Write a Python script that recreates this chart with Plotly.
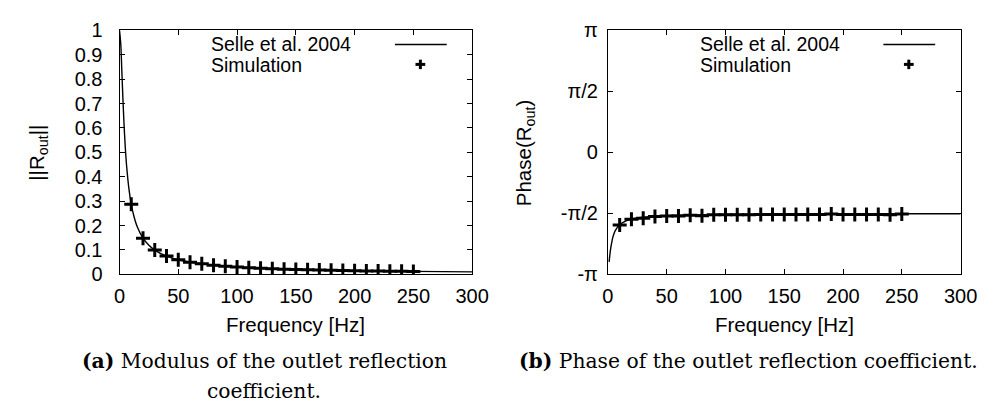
import math
import plotly.graph_objects as go

# ---------------- data ----------------
line_freq = [0, 1, 2, 3, 4, 5, 6, 8, 10, 12, 15, 20, 25, 30, 40, 50, 60, 80, 100,
             125, 150, 200, 250, 300]
line_modulus = [1.0, 0.949, 0.832, 0.707, 0.60, 0.514, 0.447, 0.351, 0.287, 0.243,
                0.196, 0.148, 0.119, 0.0995, 0.0748, 0.0599, 0.050, 0.0375, 0.030,
                0.024, 0.020, 0.015, 0.012, 0.010]

phase_line_freq = [1, 2, 3, 4, 5, 6, 8, 10, 12, 15, 20, 25, 30, 40, 50, 60, 80, 100,
                   150, 200, 250, 300]
line_phase = [-2.82, -2.55, -2.36, -2.21, -2.11, -2.03, -1.93, -1.86, -1.82, -1.77,
              -1.72, -1.69, -1.67, -1.65, -1.63, -1.62, -1.61, -1.60, -1.59, -1.586,
              -1.583, -1.581]

sim_freq = [10, 20, 30, 40, 50, 60, 70, 80, 90, 100, 110, 120, 130, 140, 150, 160,
            170, 180, 190, 200, 210, 220, 230, 240, 250]
sim_modulus = [0.287, 0.148, 0.100, 0.075, 0.060, 0.050, 0.043, 0.037, 0.033, 0.030,
               0.027, 0.025, 0.023, 0.021, 0.020, 0.019, 0.018, 0.017, 0.016, 0.015,
               0.014, 0.0137, 0.013, 0.0125, 0.012]
sim_phase = [-1.87, -1.72, -1.70, -1.65, -1.64, -1.64, -1.62, -1.63, -1.61, -1.61,
             -1.61, -1.61, -1.60, -1.60, -1.60, -1.60, -1.60, -1.60, -1.59, -1.60,
             -1.60, -1.60, -1.60, -1.61, -1.59]

x_ticks = [0, 50, 100, 150, 200, 250, 300]
mod_ticks = [0, 0.1, 0.2, 0.3, 0.4, 0.5, 0.6, 0.7, 0.8, 0.9, 1]
mod_tick_labels = ["0", "0.1", "0.2", "0.3", "0.4", "0.5", "0.6", "0.7", "0.8", "0.9", "1"]
phase_ticks = [-math.pi, -math.pi / 2, 0, math.pi / 2, math.pi]
phase_tick_labels = ["-π", "-π/2", "0", "π/2", "π"]

legend_labels = ["Selle et al. 2004", "Simulation"]
x_title = "Frequency [Hz]"
y_titles = ["||R<sub>out</sub>||", "Phase(R<sub>out</sub>)"]
caption_lines = [
    ["<b>(a)</b> Modulus of the outlet reflection", "coefficient."],
    ["<b>(b)</b> Phase of the outlet reflection coefficient."],
]

# ---------------- layout helpers ----------------
W, H = 994, 405
def px(x):
    return x / W
def py(y):
    return 1 - y / H

SANS = "Liberation Sans"
SERIF = "DejaVu Serif"
FS = 20.5
LFS = 19.5
TFS = 20
CFS = 20.3

panels = [
    dict(x0=108, x1=469, ytitle_x=25, caption_x=256),
    dict(x0=608, x1=969, ytitle_x=523, caption_x=752),
]
y_top, y_bot = 12, 270

fig = go.Figure()

line_style = dict(color="black", width=1.4)
marker_style = dict(symbol="cross-thin", size=10, color="black",
                    line=dict(color="black", width=3))

fig.add_trace(go.Scatter(x=line_freq, y=line_modulus, mode="lines", line=line_style,
                         xaxis="x", yaxis="y", showlegend=False, line_shape="spline"))
fig.add_trace(go.Scatter(x=sim_freq, y=sim_modulus, mode="markers", marker=marker_style,
                         xaxis="x", yaxis="y", showlegend=False))
fig.add_trace(go.Scatter(x=phase_line_freq, y=line_phase, mode="lines", line=line_style,
                         xaxis="x2", yaxis="y2", showlegend=False, line_shape="spline"))
fig.add_trace(go.Scatter(x=sim_freq, y=sim_phase, mode="markers", marker=marker_style,
                         xaxis="x2", yaxis="y2", showlegend=False))

axis_common = dict(showline=True, linecolor="black", linewidth=1, mirror="ticks",
                   ticks="inside", ticklen=5, tickcolor="black", tickwidth=1,
                   showgrid=False, zeroline=False,
                   tickfont=dict(family=SANS, size=TFS, color="black"))

fig.update_layout(
    width=W, height=H,
    margin=dict(l=0, r=0, t=0, b=0),
    paper_bgcolor="white", plot_bgcolor="white",
    showlegend=False,
    xaxis=dict(domain=[px(108), px(469)], range=[0, 300], tickvals=x_ticks,
               anchor="y", ticklabelstandoff=4, **axis_common),
    yaxis=dict(domain=[py(y_bot), py(y_top)], range=[0, 1], tickvals=mod_ticks,
               ticktext=mod_tick_labels, anchor="x", ticklabelstandoff=12, **axis_common),
    xaxis2=dict(domain=[px(608), px(969)], range=[0, 300], tickvals=x_ticks,
                anchor="y2", ticklabelstandoff=4, **axis_common),
    yaxis2=dict(domain=[py(y_bot), py(y_top)], range=[-math.pi, math.pi],
                tickvals=phase_ticks, ticktext=phase_tick_labels, anchor="x2",
                ticklabelstandoff=5, **axis_common),
)

annotations = []
shapes = []
for i, p in enumerate(panels):
    cx = (p["x0"] + p["x1"]) / 2
    # x title
    annotations.append(dict(x=px(cx), y=py(323), xref="paper", yref="paper",
                            text=x_title, showarrow=False, xanchor="center",
                            yanchor="middle", font=dict(family=SANS, size=FS, color="black")))
    # y title
    annotations.append(dict(x=px(p["ytitle_x"]), y=py(141), xref="paper", yref="paper",
                            text=y_titles[i], showarrow=False, textangle=-90,
                            xanchor="center", yanchor="middle",
                            font=dict(family=SANS, size=FS, color="black")))
    # legend texts
    for j, lab in enumerate(legend_labels):
        annotations.append(dict(x=px(p["x0"] + 93), y=py(26 + 22.5 * j), xref="paper",
                                yref="paper", text=lab, showarrow=False,
                                xanchor="left", yanchor="middle", borderpad=0,
                                font=dict(family=SANS, size=LFS, color="black")))
    # legend line sample
    shapes.append(dict(type="line", xref="paper", yref="paper",
                       x0=px(p["x0"] + 282), x1=px(p["x0"] + 335),
                       y0=py(27), y1=py(27), line=dict(color="black", width=1.4)))
    # legend plus sample
    mx, my = p["x0"] + 308, 48
    shapes.append(dict(type="line", xref="paper", yref="paper",
                       x0=px(mx - 5), x1=px(mx + 5), y0=py(my), y1=py(my),
                       line=dict(color="black", width=3)))
    shapes.append(dict(type="line", xref="paper", yref="paper",
                       x0=px(mx), x1=px(mx), y0=py(my - 5), y1=py(my + 5),
                       line=dict(color="black", width=3)))
    # captions
    for k, txt in enumerate(caption_lines[i]):
        annotations.append(dict(x=px(p["caption_x"]), y=py(362 + 31 * k), xref="paper",
                                yref="paper", text=txt, showarrow=False,
                                xanchor="center", yanchor="middle",
                                font=dict(family=SERIF, size=CFS, color="black")))

fig.update_layout(annotations=annotations, shapes=shapes)
fig.write_html("out.html")
